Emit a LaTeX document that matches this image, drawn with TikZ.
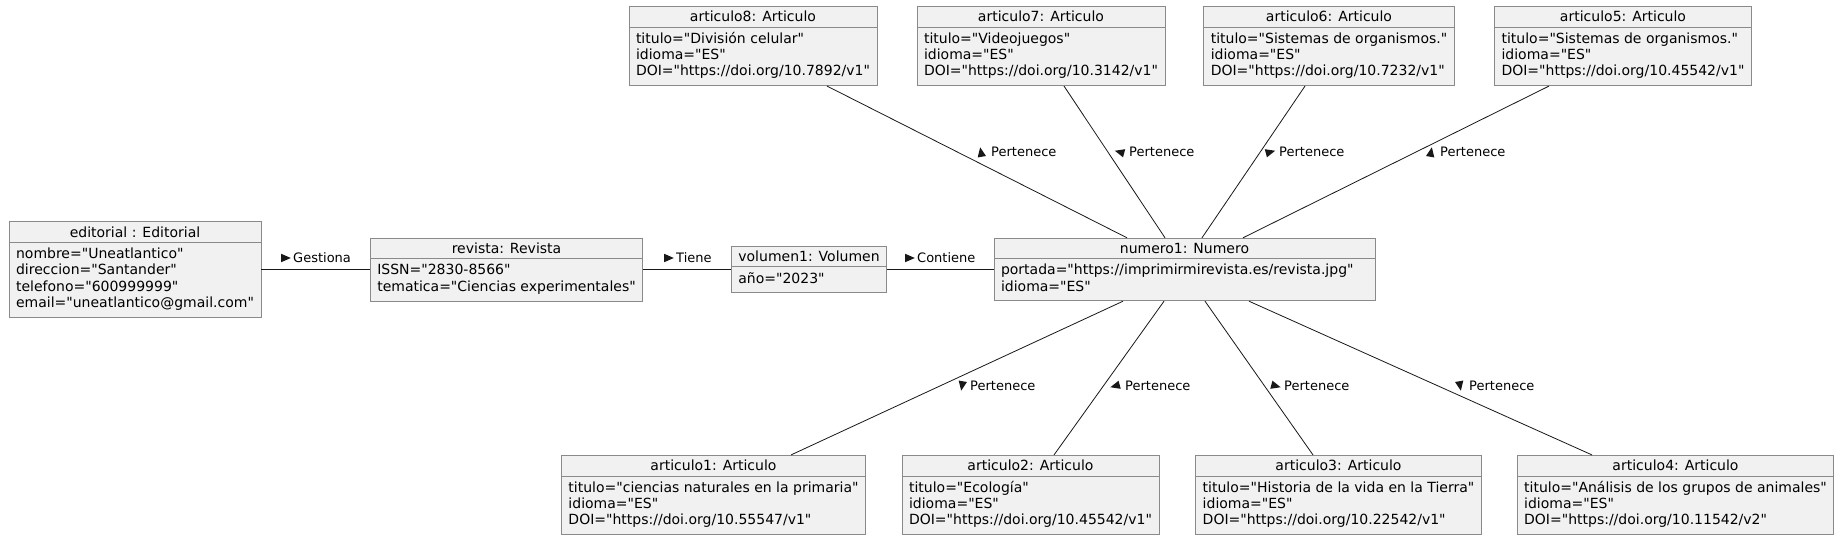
\documentclass[tikz,border=0pt]{standalone}
\usepackage{fontspec}
\setmainfont{DejaVu Sans}[Ligatures=TeXOff]
\usetikzlibrary{shapes.multipart}
\definecolor{boxfill}{HTML}{F1F1F1}
\definecolor{boxline}{HTML}{8A8A8A}
\definecolor{linec}{HTML}{181818}
\tikzset{
  obj/.style={rectangle split, rectangle split parts=2, rectangle split part align={center,left},
    draw=boxline, line width=0.8pt, fill=boxfill, align=left, inner xsep=7pt, inner ysep=4.5pt,
    font=\fontsize{14}{16.3}\selectfont},
  lbl/.style={anchor=west, inner sep=0pt, font=\fontsize{13}{15}\selectfont},
  conn/.style={draw=linec, line width=0.8pt},
  tri/.pic={\fill[linec] (4.8,0) -- (-4.8,4.2) -- (-4.8,-4.2) -- cycle;}
}

\begin{document}
\begin{tikzpicture}[x=1pt, y=1pt]
\useasboundingbox[fill=white] (0,0) rectangle (1840,-538);

% middle row
\node[obj] (editorial) at (135,-269.5) {editorial : Editorial
  \nodepart{two}\strut nombre="Uneatlantico"\\ direccion="Santander"\\ telefono="600999999"\\ email="uneatlantico@gmail.com"\strut};
\node[obj] (revista) at (506.5,-269.5) {revista: Revista
  \nodepart{two}\strut ISSN="2830-8566"\\ tematica="Ciencias experimentales"\strut};
\node[obj] (volumen1) at (809,-269.5) {volumen1: Volumen
  \nodepart{two}\strut año="2023"\strut};
\node[obj, minimum width=381pt] (numero1) at (1184.5,-269.5) {numero1: Numero
  \nodepart{two}\strut portada="https://imprimirmirevista.es/revista.jpg"\\ idioma="ES"\strut};

% top row
\node[obj] (articulo8) at (753,-46) {articulo8: Articulo
  \nodepart{two}\strut titulo="División celular"\\ idioma="ES"\\ DOI="https://doi.org/10.7892/v1"\strut};
\node[obj] (articulo7) at (1041,-46) {articulo7: Articulo
  \nodepart{two}\strut titulo="Videojuegos"\\ idioma="ES"\\ DOI="https://doi.org/10.3142/v1"\strut};
\node[obj] (articulo6) at (1329,-46) {articulo6: Articulo
  \nodepart{two}\strut titulo="Sistemas de organismos."\\ idioma="ES"\\ DOI="https://doi.org/10.7232/v1"\strut};
\node[obj] (articulo5) at (1623,-46) {articulo5: Articulo
  \nodepart{two}\strut titulo="Sistemas de organismos."\\ idioma="ES"\\ DOI="https://doi.org/10.45542/v1"\strut};

% bottom row
\node[obj] (articulo1) at (713.5,-495) {articulo1: Articulo
  \nodepart{two}\strut titulo="ciencias naturales en la primaria"\\ idioma="ES"\\ DOI="https://doi.org/10.55547/v1"\strut};
\node[obj] (articulo2) at (1030.5,-495) {articulo2: Articulo
  \nodepart{two}\strut titulo="Ecología"\\ idioma="ES"\\ DOI="https://doi.org/10.45542/v1"\strut};
\node[obj] (articulo3) at (1338.5,-495) {articulo3: Articulo
  \nodepart{two}\strut titulo="Historia de la vida en la Tierra"\\ idioma="ES"\\ DOI="https://doi.org/10.22542/v1"\strut};
\node[obj] (articulo4) at (1675.5,-495) {articulo4: Articulo
  \nodepart{two}\strut titulo="Análisis de los grupos de animales"\\ idioma="ES"\\ DOI="https://doi.org/10.11542/v2"\strut};

% links
\draw[conn] (editorial) -- (revista);
\draw[conn] (revista) -- (volumen1);
\draw[conn] (volumen1) -- (numero1);
\draw[conn] ([xshift=74pt]articulo8.south) -- ([xshift=-57.5pt]numero1.north);
\draw[conn] ([xshift=23pt]articulo7.south) -- ([xshift=-19.5pt]numero1.north);
\draw[conn] ([xshift=-24pt]articulo6.south) -- ([xshift=17.5pt]numero1.north);
\draw[conn] ([xshift=-74pt]articulo5.south) -- ([xshift=58.5pt]numero1.north);
\draw[conn] ([xshift=77.5pt]articulo1.north) -- ([xshift=-61.5pt]numero1.south);
\draw[conn] ([xshift=23.5pt]articulo2.north) -- ([xshift=-20.5pt]numero1.south);
\draw[conn] ([xshift=-25.5pt]articulo3.north) -- ([xshift=20.5pt]numero1.south);
\draw[conn] ([xshift=-83.5pt]articulo4.north) -- ([xshift=64.5pt]numero1.south);

% labels
\pic at (286,-258) {tri};
\node[lbl] (lgestiona) at (293,-258) {Gestiona};
\pic at (669,-258) {tri};
\node[lbl] (ltiene) at (676,-258) {Tiene};
\pic at (910,-258) {tri};
\node[lbl] (lcontiene) at (917,-258) {Contiene};

\pic[rotate=100] at (981,-152) {tri};
\node[lbl] (lart8) at (991,-152) {Pertenece};
\pic[rotate=165] at (1119.5,-152) {tri};
\node[lbl] (lart7) at (1129,-152) {Pertenece};
\pic[rotate=15] at (1270.5,-152) {tri};
\node[lbl] (lart6) at (1279,-152) {Pertenece};
\pic[rotate=80] at (1431,-152) {tri};
\node[lbl] (lart5) at (1440,-152) {Pertenece};

\pic[rotate=-100] at (962,-386) {tri};
\node[lbl] (lart1) at (970,-386) {Pertenece};
\pic[rotate=195] at (1115,-386) {tri};
\node[lbl] (lart2) at (1125,-386) {Pertenece};
\pic[rotate=-15] at (1276,-386) {tri};
\node[lbl] (lart3) at (1284,-386) {Pertenece};
\pic[rotate=-80] at (1460,-386) {tri};
\node[lbl] (lart4) at (1469,-386) {Pertenece};
\end{tikzpicture}
\end{document}
